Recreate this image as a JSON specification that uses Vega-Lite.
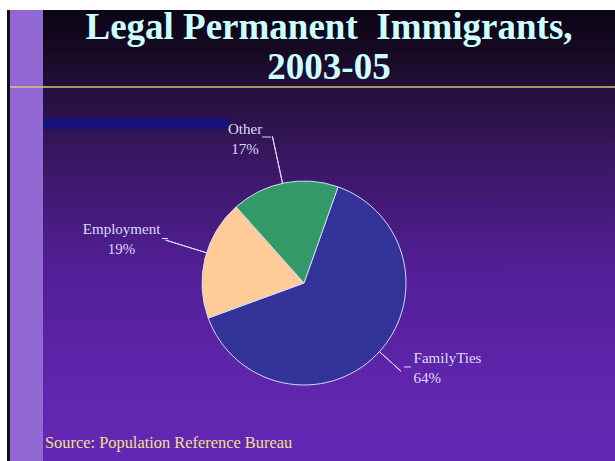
{
  "$schema": "https://vega.github.io/schema/vega-lite/v6.json",
  "width": 572,
  "height": 451,
  "autosize": {"type": "none"},
  "padding": {"left": 43, "top": 10, "right": 0, "bottom": 0},
  "background": "white",
  "view": {
    "stroke": null,
    "fill": {
      "gradient": "linear",
      "x1": 0, "y1": 0, "x2": 0, "y2": 1,
      "stops": [
        {"offset": 0, "color": "#0d0416"},
        {"offset": 0.09, "color": "#150a22"},
        {"offset": 0.171, "color": "#22103a"},
        {"offset": 0.355, "color": "#3c1868"},
        {"offset": 0.565, "color": "#521e95"},
        {"offset": 0.865, "color": "#6226b0"},
        {"offset": 1, "color": "#6427b4"}
      ]
    }
  },
  "title": {
    "text": ["Legal Permanent\u00a0 Immigrants,", "2003-05"],
    "anchor": "middle",
    "frame": "group",
    "orient": "top",
    "offset": -106,
    "baseline": "alphabetic",
    "font": "Liberation Serif",
    "fontSize": 37,
    "fontWeight": "bold",
    "color": "#ccffff",
    "lineHeight": 40
  },
  "data": {
    "values": [
      {"cat": "FamilyTies", "pct": 64, "idx": 1, "label": "FamilyTies\n64%"},
      {"cat": "Employment", "pct": 19, "idx": 2, "label": "Employment\n19%"},
      {"cat": "Other", "pct": 17, "idx": 3, "label": "Other\n17%"}
    ]
  },
  "layer": [
    {
      "data": {"values": [{}]},
      "mark": {"type": "rect", "x": -36, "x2": -33, "y": 0, "y2": "height", "fill": "#141018"},
      "encoding": {}
    },
    {
      "data": {"values": [{}]},
      "mark": {"type": "rect", "x": -33, "x2": 0, "y": 0, "y2": "height", "fill": "#9268d2"},
      "encoding": {}
    },
    {
      "data": {"values": [{}]},
      "mark": {"type": "rect", "x": -33, "x2": "width", "y": 76.3, "y2": 77.7, "fill": "#d8c27c"},
      "encoding": {}
    },
    {
      "data": {"values": [{}]},
      "mark": {"type": "rect", "x": 0, "x2": 187, "y": 108, "y2": 119, "fill": "#16117a"},
      "encoding": {}
    },
    {
      "mark": {"type": "arc", "x": 261, "y": 273, "radius": 102, "stroke": "#d0dcf8", "strokeWidth": 1},
      "encoding": {
        "theta": {"field": "pct", "type": "quantitative", "stack": true, "scale": {"range": [0.3403, 6.6235]}},
        "color": {"field": "cat", "type": "nominal", "scale": {"domain": ["FamilyTies", "Employment", "Other"], "range": ["#333399", "#ffcc99", "#339966"]}, "legend": null},
        "order": {"field": "idx", "type": "quantitative"}
      }
    },
    {
      "data": {"values": [{}]},
      "mark": {"type": "arc", "x": 261, "y": 273, "theta": 6.071, "theta2": 6.071, "innerRadius": 102, "outerRadius": 150, "filled": false, "stroke": "#d8dcf8", "strokeWidth": 1},
      "encoding": {}
    },
    {
      "data": {"values": [{}]},
      "mark": {"type": "arc", "x": 261, "y": 273, "theta": 5.013, "theta2": 5.013, "innerRadius": 102, "outerRadius": 145, "filled": false, "stroke": "#d8dcf8", "strokeWidth": 1},
      "encoding": {}
    },
    {
      "data": {"values": [{}]},
      "mark": {"type": "arc", "x": 261, "y": 273, "theta": 2.309, "theta2": 2.309, "innerRadius": 102, "outerRadius": 131, "filled": false, "stroke": "#d8dcf8", "strokeWidth": 1},
      "encoding": {}
    },
    {
      "data": {"values": [{}]},
      "mark": {"type": "rect", "x": 219, "x2": 228, "y": 126.5, "y2": 127.5, "fill": "#d8dcf8"},
      "encoding": {}
    },
    {
      "data": {"values": [{}]},
      "mark": {"type": "rect", "x": 119, "x2": 125, "y": 228, "y2": 229, "fill": "#d8dcf8"},
      "encoding": {}
    },
    {
      "data": {"values": [{}]},
      "mark": {"type": "rect", "x": 361, "x2": 368, "y": 356.5, "y2": 357.5, "fill": "#d8dcf8"},
      "encoding": {}
    },
    {
      "mark": {"type": "text", "x": 261, "y": 273, "radius": 150, "dx": -30, "dy": -7, "align": "center", "baseline": "middle", "lineBreak": "\n", "lineHeight": 20, "font": "Liberation Serif", "fontSize": 15, "fill": "#dcdcfa"},
      "encoding": {
        "theta": {"field": "pct", "type": "quantitative", "stack": true},
        "order": {"field": "idx", "type": "quantitative"},
        "detail": {"field": "cat", "type": "nominal"},
        "text": {"condition": {"test": "datum.cat === 'Other'", "field": "label", "type": "nominal"}, "value": ""}
      }
    },
    {
      "mark": {"type": "text", "x": 261, "y": 273, "radius": 185, "dx": -3, "dy": -9, "align": "center", "baseline": "middle", "lineBreak": "\n", "lineHeight": 20, "font": "Liberation Serif", "fontSize": 15, "fill": "#dcdcfa"},
      "encoding": {
        "theta": {"field": "pct", "type": "quantitative", "stack": true},
        "order": {"field": "idx", "type": "quantitative"},
        "detail": {"field": "cat", "type": "nominal"},
        "text": {"condition": {"test": "datum.cat === 'Employment'", "field": "label", "type": "nominal"}, "value": ""}
      }
    },
    {
      "mark": {"type": "text", "x": 261, "y": 273, "radius": 150, "dx": 3, "dy": -31, "align": "left", "baseline": "middle", "lineBreak": "\n", "lineHeight": 20, "font": "Liberation Serif", "fontSize": 15, "fill": "#dcdcfa"},
      "encoding": {
        "theta": {"field": "pct", "type": "quantitative", "stack": true},
        "order": {"field": "idx", "type": "quantitative"},
        "detail": {"field": "cat", "type": "nominal"},
        "text": {"condition": {"test": "datum.cat === 'FamilyTies'", "field": "label", "type": "nominal"}, "value": ""}
      }
    },
    {
      "data": {"values": [{}]},
      "mark": {"type": "text", "text": "Source: Population Reference Bureau", "x": 2, "y": 438, "align": "left", "baseline": "alphabetic", "font": "Liberation Serif", "fontSize": 16.4, "fill": "#ece08e"},
      "encoding": {}
    }
  ]
}
